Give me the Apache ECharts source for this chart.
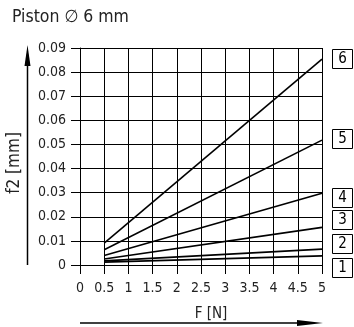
<!DOCTYPE html>
<html>
<head>
<meta charset="utf-8">
<script src="https://cdn.jsdelivr.net/npm/echarts@6/dist/echarts.min.js"></script>
<style>
  html, body { margin: 0; padding: 0; background: #fff; }
  #chart { width: 354px; height: 327px; }
</style>
</head>
<body>
<div id="chart"></div>
<script>
  // force values F [N]
  const forces = [0.5, 5];
  // deflection f2 [mm] per curve, read at F = 0.5 and F = 5
  const curve1 = [0.0012, 0.0038];
  const curve2 = [0.0017, 0.0066];
  const curve3 = [0.0025, 0.0156];
  const curve4 = [0.0039, 0.0298];
  const curve5 = [0.0063, 0.0518];
  const curve6 = [0.0091, 0.0854];
  const curveNames = ["1", "2", "3", "4", "5", "6"];
  const xTicks = ["0", "0.5", "1", "1.5", "2", "2.5", "3", "3.5", "4", "4.5", "5"];

  const curves = [curve1, curve2, curve3, curve4, curve5, curve6];
  const FONT = "DejaVu Sans Condensed, Liberation Sans Narrow, sans-serif";

  let myChart = echarts.init(document.getElementById("chart"));

  // box positions for curve numbers (top y)
  const boxTops = [258, 234, 210, 188, 129, 49];

  let graphics = [];
  curveNames.forEach((n, i) => {
    graphics.push({
      type: "rect",
      shape: { x: 332.5, y: boxTops[i] + 0.5, width: 20, height: 19 },
      style: { fill: "#fff", stroke: "#000", lineWidth: 1 },
    });
    graphics.push({
      type: "text",
      x: 342.5, y: boxTops[i] + 10,
      style: { text: n, font: "15px " + FONT, fill: "#000", align: "center", verticalAlign: "middle" },
    });
  });
  // axis titles
  graphics.push({
    type: "text",
    x: 15, y: 163,
    rotation: Math.PI / 2,
    style: { text: "f2 [mm]", font: "17px " + FONT, fill: "#222", align: "center", verticalAlign: "middle" },
  });
  graphics.push({
    type: "text",
    x: 211, y: 314,
    style: { text: "F [N]", font: "15px " + FONT, fill: "#222", align: "center", verticalAlign: "middle" },
  });
  // y arrow
  graphics.push({ type: "line", shape: { x1: 27.5, y1: 265, x2: 27.5, y2: 60 }, style: { stroke: "#000", lineWidth: 1.5 } });
  graphics.push({ type: "polygon", shape: { points: [[24.5, 66], [30.5, 66], [27.5, 45]] }, style: { fill: "#000" } });
  // x arrow
  graphics.push({ type: "line", shape: { x1: 80, y1: 323, x2: 305, y2: 323 }, style: { stroke: "#000", lineWidth: 1.5 } });
  graphics.push({ type: "polygon", shape: { points: [[297, 320], [297, 326], [323, 323]] }, style: { fill: "#000" } });

  let option = {
    animation: false,
    textStyle: { fontFamily: FONT },
    title: {
      text: "Piston \u2205 6 mm",
      left: 7, top: 3,
      textStyle: { fontFamily: FONT, fontSize: 17.5, fontWeight: "normal", color: "#222" },
    },
    grid: { left: 80, top: 48, width: 242, height: 217 },
    xAxis: {
      type: "value",
      min: 0, max: 5, interval: 0.5,
      axisLine: { show: true, lineStyle: { color: "#000", width: 1 } },
      axisTick: { show: true, length: 9, lineStyle: { color: "#000" } },
      axisLabel: {
        fontSize: 14, color: "#222", margin: 16, fontFamily: FONT,
        formatter: (v) => xTicks[Math.round(v * 2)],
      },
      splitLine: { show: true, lineStyle: { color: "#000", width: 1 } },
    },
    yAxis: {
      type: "value",
      min: 0, max: 0.09, interval: 0.01,
      axisLine: { show: true, lineStyle: { color: "#000", width: 1 } },
      axisTick: { show: true, length: 9, lineStyle: { color: "#000" } },
      axisLabel: {
        fontSize: 14, color: "#222", margin: 14, fontFamily: FONT,
        formatter: (v) => (v === 0 ? "0" : v.toFixed(2)),
      },
      splitLine: { show: true, lineStyle: { color: "#000", width: 1 } },
    },
    series: curves.map((c, i) => ({
      name: curveNames[i],
      type: "line",
      data: forces.map((f, j) => [f, c[j]]),
      symbol: "none",
      lineStyle: { color: "#000", width: 1.6 },
    })),
    graphic: graphics,
  };
  myChart.setOption(option);
</script>
</body>
</html>
